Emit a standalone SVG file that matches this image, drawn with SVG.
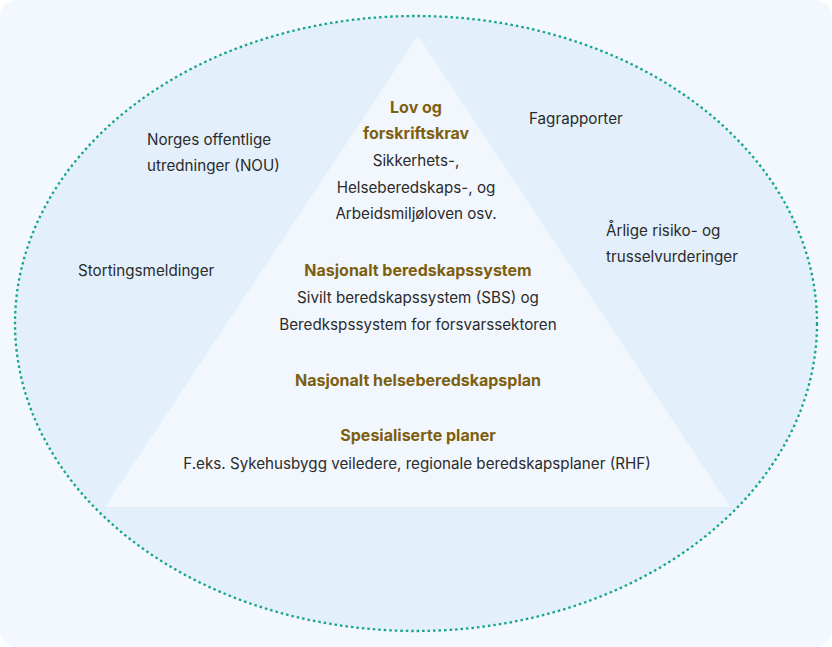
<svg xmlns="http://www.w3.org/2000/svg" width="832" height="647" viewBox="0 0 832 647">
<style>
.t{font-family:Inter,"Open Sans","Liberation Sans",sans-serif;font-size:15.2px;fill:#2b2b2b}
.h{font-family:Inter,"Open Sans","Liberation Sans",sans-serif;font-size:16px;font-weight:700;fill:#7d5f0f}
.c{text-anchor:middle}
</style>
<rect x="0" y="0" width="832" height="647" rx="16" fill="#f3f8fe"/>
<g id="outer">
<ellipse cx="416" cy="323.5" rx="401" ry="307.5" fill="#e3f0fb" stroke="#14a58c" stroke-width="2.3" stroke-dasharray="2.5 3"/>
</g>
<g id="pyramid">
<polygon points="418,36 730,507 105,507" fill="#f2f7fe"/>
</g>
<g id="lov">
<text class="h c" x="416" y="113">Lov og</text>
<text class="h c" x="416" y="139">forskriftskrav</text>
<text class="t c" x="416" y="166">Sikkerhets-,</text>
<text class="t c" x="416" y="193">Helseberedskaps-, og</text>
<text class="t c" x="416" y="219">Arbeidsmiljøloven osv.</text>
</g>
<g id="nasjonalt-beredskap">
<text class="h c" x="418" y="276">Nasjonalt beredskapssystem</text>
<text class="t c" x="418" y="303">Sivilt beredskapssystem (SBS) og</text>
<text class="t c" x="418" y="330">Beredkspssystem for forsvarssektoren</text>
</g>
<g id="helseberedskapsplan">
<text class="h c" x="418" y="386">Nasjonalt helseberedskapsplan</text>
</g>
<g id="spesialiserte">
<text class="h c" x="418" y="441">Spesialiserte planer</text>
<text class="t c" x="417" y="469">F.eks. Sykehusbygg veiledere, regionale beredskapsplaner (RHF)</text>
</g>
<g id="nou">
<text class="t" x="147" y="145">Norges offentlige</text>
<text class="t" x="147" y="171">utredninger (NOU)</text>
</g>
<g id="stortingsmeldinger">
<text class="t" x="78" y="276">Stortingsmeldinger</text>
</g>
<g id="fagrapporter">
<text class="t" x="529" y="124">Fagrapporter</text>
</g>
<g id="risiko">
<text class="t" x="606" y="236">Årlige risiko- og</text>
<text class="t" x="606" y="262">trusselvurderinger</text>
</g>
<g id="connectors"></g>
</svg>
